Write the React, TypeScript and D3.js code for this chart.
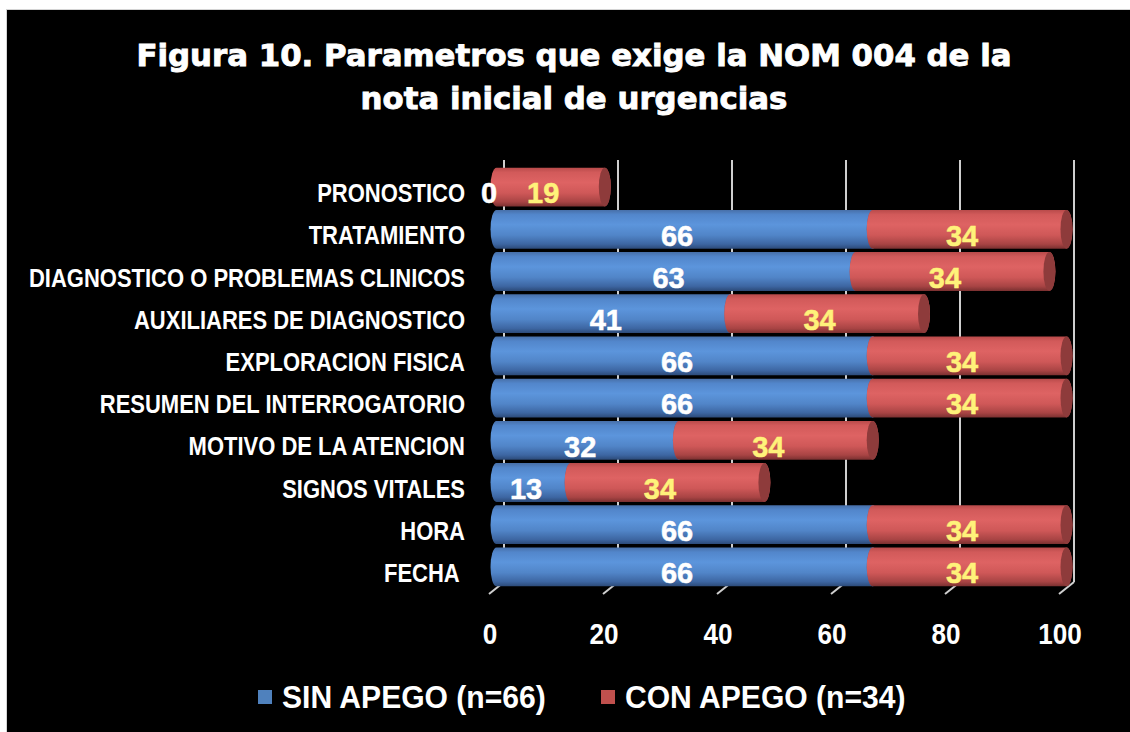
import React from "react";
import * as d3 from "d3";

const categories = [
  "FECHA ",
  "HORA",
  "SIGNOS VITALES",
  "MOTIVO DE LA ATENCION",
  "RESUMEN DEL INTERROGATORIO",
  "EXPLORACION FISICA",
  "AUXILIARES DE DIAGNOSTICO",
  "DIAGNOSTICO O PROBLEMAS CLINICOS",
  "TRATAMIENTO",
  "PRONOSTICO",
];
const sinApego = [66, 66, 13, 32, 66, 66, 41, 63, 66, 0];
const conApego = [34, 34, 34, 34, 34, 34, 34, 34, 34, 19];
const seriesNames = ["SIN APEGO (n=66)", "CON APEGO (n=34)"];
const xTicks = [0, 20, 40, 60, 80, 100];
const titleLines = ["Figura 10. Parametros que exige la NOM 004 de la", "nota inicial de urgencias"];

const W = 1130;
const H = 732;
const DX = 15;
const DY = -12;
const FRONT_TOP = 172;
const FRONT_BOTTOM = 594;

export default function App() {
  const xFront = d3.scaleLinear().domain([0, 100]).range([489, 1059]);
  const xBack = (v: number) => xFront(v) + DX;
  const xBar = (v: number) => xFront(v) + DX / 2;
  const yFront = d3
    .scaleBand<string>()
    .domain([...categories].reverse())
    .range([FRONT_TOP, FRONT_BOTTOM])
    .paddingInner(0.08)
    .paddingOuter(0.04);
  const bw = yFront.bandwidth();
  const rx = 6;
  const ry = bw / 2;

  const rows = categories.map((c, i) => {
    const s0 = [0, sinApego[i]];
    const s1 = [sinApego[i], sinApego[i] + conApego[i]];
    return { c, segs: [s0, s1], vals: [sinApego[i], conApego[i]] };
  });

  const segPath = (a: number, b: number, top: number) => {
    const x0 = xBar(a);
    const x1 = xBar(b);
    const bot = top + bw;
    return `M${x0},${top}L${x1},${top}A${rx},${ry} 0 0 1 ${x1},${bot}L${x0},${bot}A${rx},${ry} 0 0 1 ${x0},${top}Z`;
  };

  const gradIds = ["gBlue", "gRed"];
  const capColors = ["#3f669f", "#8e3b3b"];
  const labelColors = ["#ffffff", "#fff27a"];
  const legendColors = ["#4f81bd", "#c0504d"];
  const legendX = [258, 601];

  return (
    <>
      <style>{`body{margin:0;background:#fff}`}</style>
      <svg width={W} height={H} style={{ display: "block" }}>
        <defs>
          <linearGradient id="gBlue" x1="0" y1="0" x2="0" y2="1">
            <stop offset="0%" stopColor="#476fa8" />
            <stop offset="12%" stopColor="#5286cb" />
            <stop offset="38%" stopColor="#5c95dc" />
            <stop offset="65%" stopColor="#5185c8" />
            <stop offset="88%" stopColor="#3d66a2" />
            <stop offset="100%" stopColor="#2c4a78" />
          </linearGradient>
          <linearGradient id="gRed" x1="0" y1="0" x2="0" y2="1">
            <stop offset="0%" stopColor="#b84a4a" />
            <stop offset="12%" stopColor="#d25a5a" />
            <stop offset="38%" stopColor="#de6363" />
            <stop offset="65%" stopColor="#cf5858" />
            <stop offset="88%" stopColor="#a84444" />
            <stop offset="100%" stopColor="#7a3030" />
          </linearGradient>
        </defs>
        <rect x={6.5} y={9.5} width={W} height={H} fill="#000" stroke="#d4d4d4" strokeWidth={1} />

        {titleLines.map((t, i) => (
          <text
            key={i}
            x={574}
            y={66 + i * 42.5}
            textAnchor="middle"
            fill="#fff"
            stroke="#fff"
            strokeWidth={0.9}
            fontFamily="'DejaVu Sans', Verdana, sans-serif"
            fontWeight="bold"
            fontSize={30.8}
          >
            {t}
          </text>
        ))}

        {/* back wall gridlines and floor ticks */}
        {xTicks.map((v) => (
          <g key={v} stroke="#cfcfcf" strokeWidth={2} fill="none">
            <line x1={xBack(v)} x2={xBack(v)} y1={FRONT_TOP + DY} y2={FRONT_BOTTOM + DY} />
            <line x1={xFront(v)} y1={FRONT_BOTTOM} x2={xBack(v)} y2={FRONT_BOTTOM + DY} />
          </g>
        ))}

        {/* bars */}
        {rows.map((r) => {
          const top = (yFront(r.c) as number) + DY / 2;
          return (
            <g key={r.c}>
              {r.segs.map((s, k) =>
                s[1] > s[0] ? (
                  <g key={k}>
                    <path d={segPath(s[0], s[1], top)} fill={`url(#${gradIds[k]})`} />
                    <ellipse cx={xBar(s[1])} cy={top + bw / 2} rx={rx} ry={ry} fill={capColors[k]} />
                  </g>
                ) : null
              )}
            </g>
          );
        })}

        {/* data labels */}
        {rows.map((r) => {
          const cy = (yFront(r.c) as number) + bw / 2;
          return r.segs.map((s, k) => (
            <text
              key={r.c + k}
              x={xFront((s[0] + s[1]) / 2)}
              y={cy + 10.3}
              textAnchor="middle"
              fill={labelColors[k]}
              stroke={labelColors[k]}
              strokeWidth={0.5}
              fontFamily="'Liberation Sans', Arial, sans-serif"
              fontWeight="bold"
              fontSize={29}
            >
              {r.vals[k]}
            </text>
          ));
        })}

        {/* category labels */}
        {categories.map((c) => {
          const cy = (yFront(c) as number) + bw / 2;
          return (
            <text
              key={c}
              transform={`translate(${xFront(0) - 24},${cy + 9}) scale(0.88,1)`}
              textAnchor="end"
              fill="#fff"
              fontFamily="'Liberation Sans', Arial, sans-serif"
              fontWeight="bold"
              fontSize={25}
              style={{ whiteSpace: "pre" }}
            >
              {c}
            </text>
          );
        })}

        {/* x tick labels */}
        {xTicks.map((v) => (
          <text
            key={v}
            transform={`translate(${xFront(v) + 1},${644}) scale(0.9,1)`}
            textAnchor="middle"
            fill="#fff"
            fontFamily="'Liberation Sans', Arial, sans-serif"
            fontWeight="bold"
            fontSize={29}
          >
            {v}
          </text>
        ))}

        {/* legend */}
        {seriesNames.map((n, k) => (
          <g key={n}>
            <rect x={legendX[k]} y={690} width={14} height={14} fill={legendColors[k]} />
            <text
              transform={`translate(${legendX[k] + 24},${708}) scale(0.94,1)`}
              fill="#fff"
              fontFamily="'Liberation Sans', Arial, sans-serif"
              fontWeight="bold"
              fontSize={32}
            >
              {n}
            </text>
          </g>
        ))}
      </svg>
    </>
  );
}
